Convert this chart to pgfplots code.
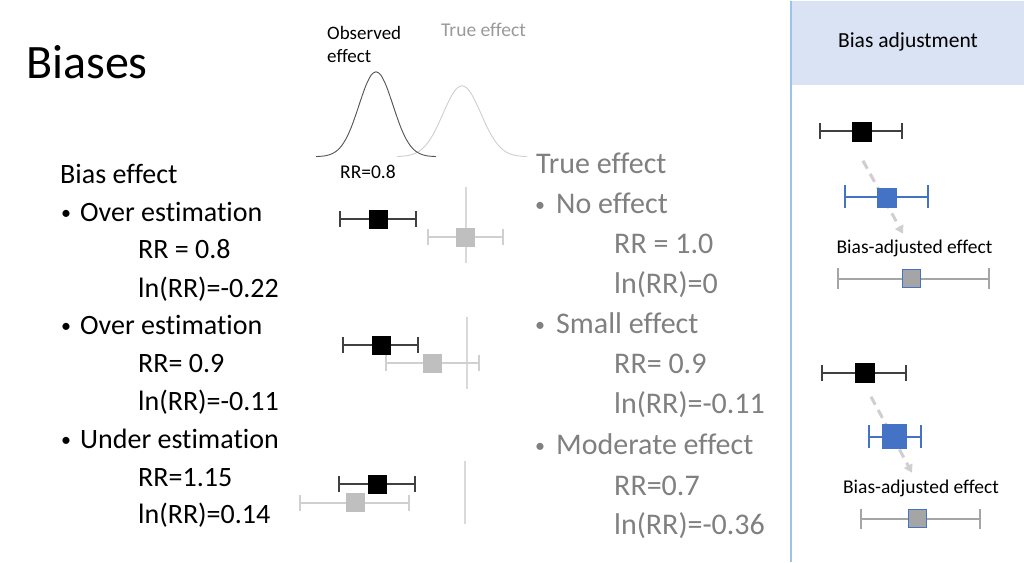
\documentclass[border=0pt]{standalone}
\usepackage{pgfplots}
\pgfplotsset{compat=1.18}
\usepackage{fontspec}
\setmainfont{Carlito}[Ligatures={NoCommon}]
\usetikzlibrary{arrows.meta}
\definecolor{darkw}{HTML}{404040}
\definecolor{lightw}{HTML}{D0D0D0}
\definecolor{lightsq}{HTML}{BFBFBF}
\definecolor{refl}{HTML}{D9D9D9}
\definecolor{bblue}{HTML}{4472C4}
\definecolor{adjg}{HTML}{A5A5A5}
\definecolor{hdr}{HTML}{DAE3F3}
\definecolor{panel}{HTML}{9DC3E6}
\definecolor{txtgray}{HTML}{808080}
\definecolor{curvegray}{HTML}{CFCFCF}
\definecolor{arrowg}{HTML}{D0CECE}
\newcommand{\fs}[1]{\fontsize{#1}{#1}\selectfont}
\newcommand{\bul}{{\fs{20}\raisebox{2pt}{•}}}
\begin{document}
\begin{tikzpicture}
\begin{axis}[scale only axis, width=1024pt, height=561pt,
  xmin=0, xmax=1024, ymin=0, ymax=561, y dir=reverse,
  hide axis, clip=false]
% background
\addplot[fill=white, draw=none] coordinates {(0,0) (1024,0) (1024,561) (0,561)} -- cycle;
\addplot[fill=hdr, draw=none] coordinates {(791,0) (1024,0) (1024,84) (791,84)} -- cycle;
\addplot[panel, line width=1.5pt] coordinates {(791,0) (791,561)};
% distributions
\addplot[curvegray, line width=0.9pt, smooth] coordinates {
(397,155.8) (402,155.5) (407,154.9) (412,153.8) (417,151.7) (422,148.3) (427,143.0) (432,135.6) (437,126.1) (442,115.2) (447,104.0) (452,94.2) (457,87.4) (462,85)
(467,87.4) (472,94.2) (477,104.0) (482,115.2) (487,126.1) (492,135.6) (497,143.0) (502,148.3) (507,151.7) (512,153.8) (517,154.9) (522,155.5) (527,155.8)};
\addplot[darkw!90, line width=0.9pt, smooth] coordinates {
(316,155.8) (321,155.5) (326,154.9) (331,153.4) (336,150.7) (341,145.8) (346,138.1) (351,127.2) (356,113.4) (361,98.4) (366,84.5) (371,74.6) (376,71)
(381,74.6) (386,84.5) (391,98.4) (396,113.4) (401,127.2) (406,138.1) (411,145.8) (416,150.7) (421,153.4) (426,154.9) (431,155.5) (436,155.8)};
% reference lines
\addplot[refl, line width=1.2pt] coordinates {(466,186) (466,262)};
\addplot[refl, line width=1.2pt] coordinates {(467,316) (467,388)};
\addplot[refl, line width=1.2pt] coordinates {(465,460) (465,523)};
% forest rows: gray (true) first
\addplot[lightw, line width=1.5pt, mark=|, mark size=8pt] coordinates {(428,236) (503,236)};
\addplot[lightw, line width=1.5pt, mark=|, mark size=8pt] coordinates {(386,362) (479,362)};
\addplot[lightw, line width=1.5pt, mark=|, mark size=8pt] coordinates {(300,502) (409,502)};
\addplot[only marks, mark=square*, mark size=9pt, mark options={fill=lightsq, draw=lightsq, line width=0.2pt}] coordinates {(465.5,236.5) (432,362.5) (355,501.5)};
% black (observed)
\addplot[darkw, line width=1.5pt, mark=|, mark size=8pt] coordinates {(340,218) (416,218)};
\addplot[darkw, line width=1.5pt, mark=|, mark size=8pt] coordinates {(343,344) (418,344)};
\addplot[darkw, line width=1.5pt, mark=|, mark size=8pt] coordinates {(339,483) (415,483)};
\addplot[only marks, mark=square*, mark size=9pt, mark options={fill=black, draw=black, line width=0.2pt}] coordinates {(378,218.5) (381,344) (377,483.5)};
% right panel top
\addplot[darkw, line width=1.5pt, mark=|, mark size=8pt] coordinates {(820,130) (902,130)};
\addplot[only marks, mark=square*, mark size=9.5pt, mark options={fill=black, draw=black, line width=0.2pt}] coordinates {(861.5,130.5)};
\addplot[bblue, line width=1.5pt, mark=|, mark size=11.5pt] coordinates {(845,196) (928,196)};
\addplot[only marks, mark=square*, mark size=9.5pt, mark options={fill=bblue, draw=bblue, line width=0.3pt}] coordinates {(886.5,196.5)};
\addplot[adjg, line width=1.5pt, mark=|, mark size=10.5pt] coordinates {(838,278) (989,278)};
\addplot[only marks, mark=square*, mark size=9pt, mark options={fill=adjg, draw=bblue, line width=0.8pt}] coordinates {(911,277.5)};
% right panel bottom
\addplot[darkw, line width=1.5pt, mark=|, mark size=8pt] coordinates {(822,372) (906,372)};
\addplot[only marks, mark=square*, mark size=9.5pt, mark options={fill=black, draw=black, line width=0.2pt}] coordinates {(864.5,372)};
\addplot[bblue, line width=1.5pt, mark=|, mark size=11.5pt] coordinates {(869,436) (921,436)};
\addplot[only marks, mark=square*, mark size=12pt, mark options={fill=bblue, draw=bblue, line width=0.3pt}] coordinates {(894,435)};
\addplot[adjg, line width=1.5pt, mark=|, mark size=10pt] coordinates {(861,518) (980,518)};
\addplot[only marks, mark=square*, mark size=9pt, mark options={fill=adjg, draw=bblue, line width=0.8pt}] coordinates {(917.5,518)};
% arrows (on top)
\addplot[arrowg, line width=3pt, dash pattern=on 9pt off 6pt, -{Triangle[width=9pt,length=8pt]}] coordinates {(863,160) (903,233)};
\addplot[arrowg, line width=3pt, dash pattern=on 9pt off 6pt, -{Triangle[width=9pt,length=8pt]}] coordinates {(871,396) (912,472)};
% texts
\node[anchor=base west, inner sep=0pt, font=\fs{48}] at (axis cs:26,78) {Biases};
\node[anchor=base west, inner sep=0pt, font=\fs{19}] at (axis cs:327,39) {Observed};
\node[anchor=base west, inner sep=0pt, font=\fs{19}] at (axis cs:327,62) {effect};
\node[anchor=base west, inner sep=0pt, font=\fs{19.5}, text=txtgray!80] at (axis cs:441,36) {True effect};
\node[anchor=base west, inner sep=0pt, font=\fs{19.5}] at (axis cs:340,178) {RR=0.8};
% left column
\begin{scope}[every node/.style={anchor=base west, inner sep=0pt, font=\fs{28}}]
\node at (axis cs:60,183) {Bias effect};
\node at (axis cs:61,221) {\bul};
\node at (axis cs:80,221) {Over estimation};
\node at (axis cs:138,258) {RR = 0.8};
\node at (axis cs:138,297) {ln(RR)=-0.22};
\node at (axis cs:61,334) {\bul};
\node at (axis cs:80,334) {Over estimation};
\node at (axis cs:138,372) {RR= 0.9};
\node at (axis cs:138,410) {ln(RR)=-0.11};
\node at (axis cs:61,448) {\bul};
\node at (axis cs:80,448) {Under estimation};
\node at (axis cs:138,486) {RR=1.15};
\node at (axis cs:138,523) {ln(RR)=0.14};
\end{scope}
% middle column
\begin{scope}[every node/.style={anchor=base west, inner sep=0pt, font=\fs{30}, text=txtgray}]
\node at (axis cs:536,173) {True effect};
\node at (axis cs:535,213) {\bul};
\node at (axis cs:556,213) {No effect};
\node at (axis cs:614,253) {RR = 1.0};
\node at (axis cs:614,293) {ln(RR)=0};
\node at (axis cs:535,333) {\bul};
\node at (axis cs:556,333) {Small effect};
\node at (axis cs:614,373) {RR= 0.9};
\node at (axis cs:614,413) {ln(RR)=-0.11};
\node at (axis cs:535,454) {\bul};
\node at (axis cs:556,454) {Moderate effect};
\node at (axis cs:614,495) {RR=0.7};
\node at (axis cs:614,534) {ln(RR)=-0.36};
\end{scope}
% right panel texts
\node[anchor=center, inner sep=0pt, font=\fs{21.5}] at (axis cs:908,41) {Bias adjustment};
\node[anchor=center, inner sep=0pt, font=\fs{19.5}] at (axis cs:914.5,248) {Bias-adjusted effect};
\node[anchor=center, inner sep=0pt, font=\fs{19.5}] at (axis cs:921,488) {Bias-adjusted effect};
\end{axis}
\end{tikzpicture}
\end{document}
